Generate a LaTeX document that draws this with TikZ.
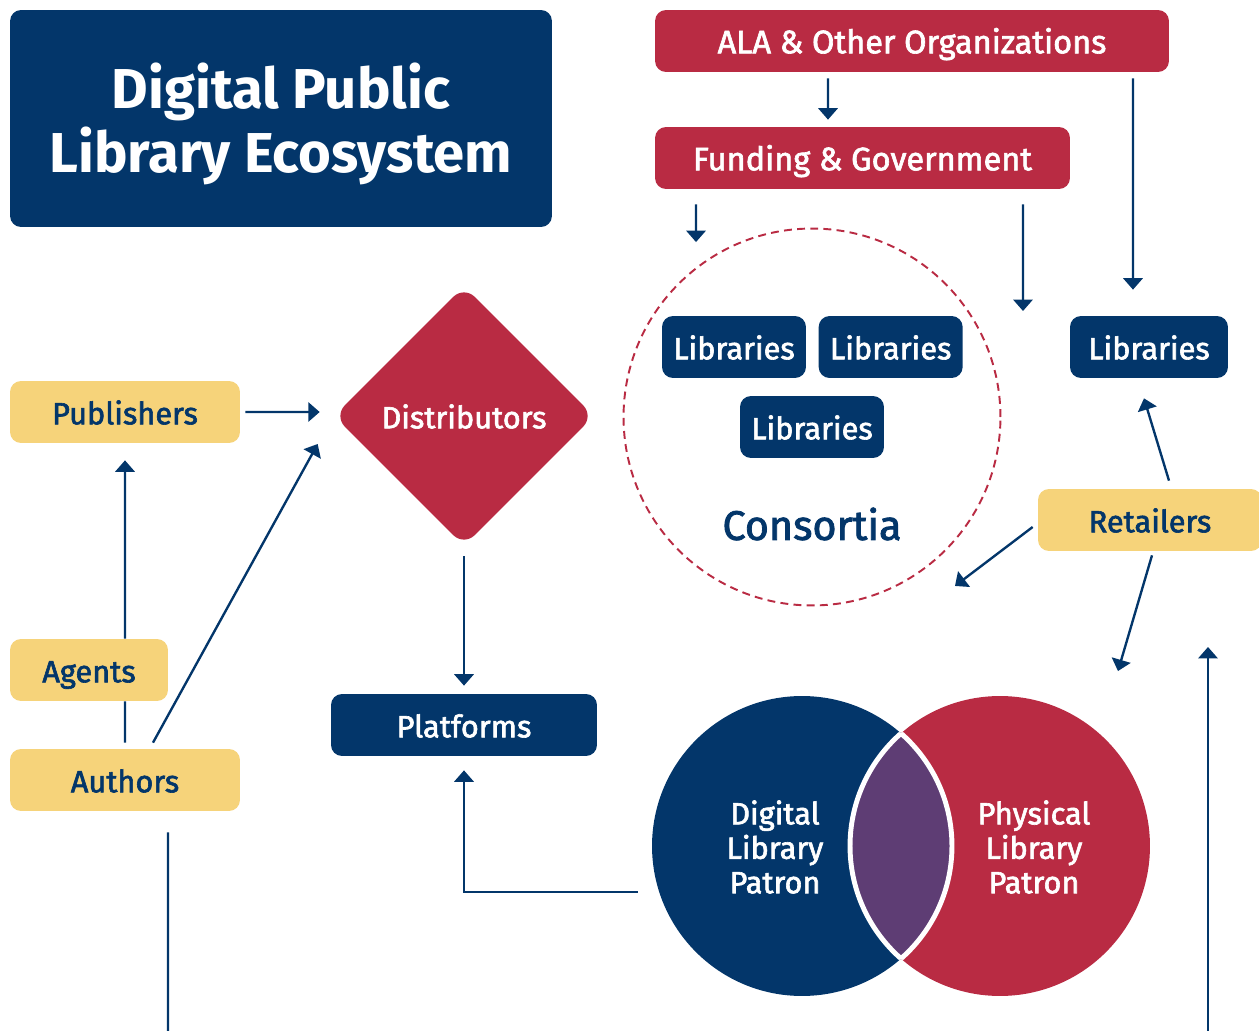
\documentclass[tikz,border=0pt]{standalone}
\usepackage{fontspec}
\setmainfont{Fira Sans}
\newfontfamily\labelfont{Fira Sans}[FakeBold=2]
\usepackage{xcolor}
\usepackage{tikz}
\usetikzlibrary{shapes.geometric, arrows.meta, positioning}
\definecolor{navy}{HTML}{03366A}
\definecolor{crimson}{HTML}{B92B43}
\definecolor{sand}{HTML}{F6D37A}
\definecolor{plum}{HTML}{5E3D74}
\tikzstyle{navybox} = [rectangle, rounded corners=0.22cm, minimum width=2.88cm, minimum height=1.24cm, inner sep=0pt, text height=14pt, text depth=0pt, text centered, fill=navy, text=white, font=\labelfont\fontsize{17.5}{20}\selectfont]
\tikzstyle{redbox} = [rectangle, rounded corners=0.22cm, minimum height=1.24cm, inner sep=0pt, text height=14pt, text depth=0pt, text centered, fill=crimson, text=white, font=\labelfont\fontsize{18.5}{20}\selectfont]
\tikzstyle{sandbox} = [rectangle, rounded corners=0.22cm, minimum height=1.24cm, inner sep=0pt, text height=14pt, text depth=0pt, text centered, fill=sand, text=navy, font=\labelfont\fontsize{17.5}{20}\selectfont]
\tikzstyle{hub} = [diamond, aspect=1, rounded corners=0.3cm, minimum width=5.2cm, minimum height=5.2cm, inner sep=0pt, text height=14pt, text depth=0pt, text centered, fill=crimson, text=white, font=\labelfont\fontsize{17.5}{20}\selectfont]
\tikzstyle{group} = [circle, draw=crimson, line width=1.1pt, dash pattern=on 4.5pt off 3pt, minimum size=7.54cm, inner sep=0pt]
\tikzstyle{patron} = [circle, minimum size=6cm, inner sep=0pt]
\tikzstyle{arrow} = [line width=1.35pt, draw=navy, -{Triangle[width=11pt,length=6.5pt]}]
\tikzstyle{link} = [line width=1.35pt, draw=navy]

\begin{document}
\begin{tikzpicture}[x=0.02cm, y=-0.02cm]
\useasboundingbox (0,0) rectangle (1259,1031);
% Nodes
\node (title) [navybox, minimum width=10.84cm, minimum height=4.34cm] at (281,118.5) {};
\node (titletext) [align=center, text=white, font=\bfseries\fontsize{32}{36.8}\selectfont] at (281,124) {Digital Public\\Library Ecosystem};
\node (ala) [redbox, minimum width=10.28cm] at (912,41) {ALA \& Other Organizations};
\node (funding) [redbox, minimum width=8.3cm] at (862.5,158) {Funding \& Government};
\node (consortia) [group] at (812,417) {};
\node (lib1) [navybox] at (734,347) {Libraries};
\node (lib2) [navybox, right=0.24cm of lib1] {Libraries};
\node (lib3) [navybox] at (812,427) {Libraries};
\node (consortialabel) [text=navy, font=\labelfont\fontsize{23.5}{26}\selectfont] at (812,524) {Consortia};
\node (lib4) [navybox, minimum width=3.16cm] at (1149,347) {Libraries};
\node (publishers) [sandbox, minimum width=4.6cm] at (125,412) {Publishers};
\node (agents) [sandbox, minimum width=3.16cm] at (89,670) {Agents};
\node (authors) [sandbox, minimum width=4.6cm] at (125,780) {Authors};
\node (distributors) [hub] at (464,416) {Distributors};
\node (platforms) [navybox, minimum width=5.32cm] at (464,725) {Platforms};
\node (retailers) [sandbox, minimum width=4.48cm] at (1150,520) {Retailers};

% Venn of patrons
\node (digital) [patron, fill=navy] at (802,846) {};
\node (physical) [patron, fill=crimson] at (1000,846) {};
\begin{scope}
\clip (802,846) circle (3cm);
\fill[plum] (1000,846) circle (3cm);
\draw[white, line width=2.8pt] (1000,846) circle (3cm);
\end{scope}
\begin{scope}
\clip (1000,846) circle (3cm);
\draw[white, line width=2.8pt] (802,846) circle (3cm);
\end{scope}
\node (digitallabel) [align=center, text=white, font=\labelfont\fontsize{17.5}{19.6}\selectfont] at (775,847) {Digital\\Library\\Patron};
\node (physicallabel) [align=center, text=white, font=\labelfont\fontsize{17.5}{19.6}\selectfont] at (1034,847) {Physical\\Library\\Patron};

% Free ends
\coordinate (fundend) at (1023,311);
\coordinate (offleft) at (168,1031);
\coordinate (offright) at (1208,1031);
\coordinate (upend) at (1208,647);

% Arrows
\draw [arrow] ([xshift=-1.68cm,yshift=-0.12cm]ala.south) -- ([xshift=-0.69cm,yshift=0.14cm]funding.north);
\draw [arrow] ([xshift=4.42cm,yshift=-0.12cm]ala.south) -- ([xshift=-0.32cm,yshift=0.52cm]lib4.north);
\draw [arrow] ([xshift=-3.33cm,yshift=-0.3cm]funding.south) -- ([xshift=-2.32cm,yshift=-0.29cm]consortia.north);
\draw [arrow] ([xshift=3.21cm,yshift=-0.3cm]funding.south) -- (fundend);
\draw [arrow] ([xshift=0.1cm]publishers.east) -- ([xshift=-0.28cm,yshift=0.08cm]distributors.west);
\draw [arrow] ([xshift=0.72cm]agents.north) -- ([yshift=-0.34cm]publishers.south);
\draw [link] ([yshift=0.12cm]authors.north) -- ([xshift=0.72cm]agents.south);
\draw [arrow] ([xshift=0.56cm,yshift=0.12cm]authors.north) -- ([xshift=-0.32cm,yshift=-0.56cm]distributors.west);
\draw [arrow] ([yshift=-0.2cm]distributors.south) -- ([yshift=0.16cm]platforms.north);
\draw [arrow] ([xshift=-0.28cm,yshift=-0.92cm]digital.west) -| ([yshift=-0.28cm]platforms.south);
\draw [arrow] ([xshift=0.38cm,yshift=0.16cm]retailers.north) -- ([xshift=-0.1cm,yshift=-0.4cm]lib4.south);
\draw [arrow] ([xshift=-0.1cm,yshift=-0.14cm]retailers.west) -- ([xshift=2.86cm,yshift=-3.38cm]consortia.center);
\draw [arrow] ([xshift=0.04cm,yshift=-0.08cm]retailers.south) -- ([xshift=2.36cm,yshift=3.5cm]physical.center);
\draw [arrow] (offright) -- (upend);
\draw [link] ([xshift=0.86cm,yshift=-0.42cm]authors.south) -- (offleft);
\end{tikzpicture}
\end{document}
